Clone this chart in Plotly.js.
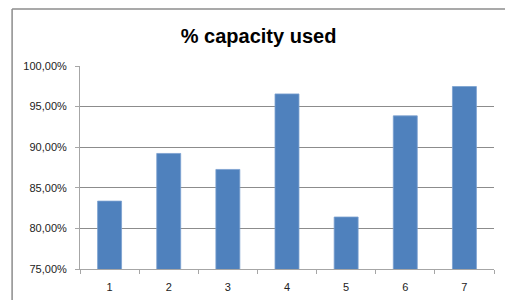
<!DOCTYPE html>
<html>
<head>
<meta charset="utf-8">
<script src="https://cdn.plot.ly/plotly-3.0.1.min.js"></script>
<style>
html,body{margin:0;padding:0;background:#fff;}
#chart{width:505px;height:300px;}
</style>
</head>
<body>
<div id="chart"></div>
<script>
const categories = ['1', '2', '3', '4', '5', '6', '7'];
const capacityUsed = [0.8336, 0.8923, 0.8726, 0.9656, 0.8140, 0.9386, 0.9747];
const yTickValues = [0.75, 0.80, 0.85, 0.90, 0.95, 1.00];
const chartTitle = '% capacity used';

const trace = {
  type: 'bar',
  x: categories,
  y: capacityUsed,
  marker: {color: '#4F81BD', line: {color: '#7aa0cf', width: 0.8}},
  hoverinfo: 'skip'
};

const layout = {
  width: 505, height: 300,
  margin: {l: 80, r: 11, t: 66, b: 31, pad: 0},
  paper_bgcolor: '#ffffff',
  plot_bgcolor: '#ffffff',
  separators: ',.',
  showlegend: false,
  bargap: 0.595,
  font: {family: '"Liberation Sans", Arial, sans-serif', color: '#222'},
  title: {
    text: '<b>' + chartTitle + '</b>',
    font: {family: '"Liberation Sans", Arial, sans-serif', size: 20, color: '#000'},
    x: 0.512, xref: 'container', xanchor: 'center',
    y: 0.88, yref: 'container', yanchor: 'middle'
  },
  xaxis: {
    type: 'category',
    showgrid: false,
    showline: true, linecolor: '#a6a6a6', linewidth: 1,
    ticks: 'outside', ticklen: 4, tickcolor: '#a6a6a6',
    tickson: 'boundaries',
    ticklabelstandoff: 8,
    tickfont: {size: 11, color: '#222'},
    fixedrange: true
  },
  yaxis: {
    range: [0.75, 1.0],
    tickvals: yTickValues,
    tickformat: '.2%',
    showgrid: true, gridcolor: '#8c8c8c', gridwidth: 1,
    showline: true, linecolor: '#a6a6a6', linewidth: 1,
    ticks: 'outside', ticklen: 4, tickcolor: '#a6a6a6',
    ticklabelstandoff: 6,
    tickfont: {size: 11, color: '#222'},
    zeroline: false,
    fixedrange: true
  },
  shapes: [
    {type: 'line', xref: 'paper', yref: 'paper', x0: -0.164, x1: 1.2, y0: 1.281, y1: 1.281,
     line: {color: '#8c8c8c', width: 1.5}},
    {type: 'line', xref: 'paper', yref: 'paper', x0: -0.164, x1: -0.164, y0: 1.281, y1: -0.2,
     line: {color: '#8c8c8c', width: 1.5}}
  ]
};

Plotly.newPlot('chart', [trace], layout, {displayModeBar: false, staticPlot: true});
</script>
</body>
</html>
